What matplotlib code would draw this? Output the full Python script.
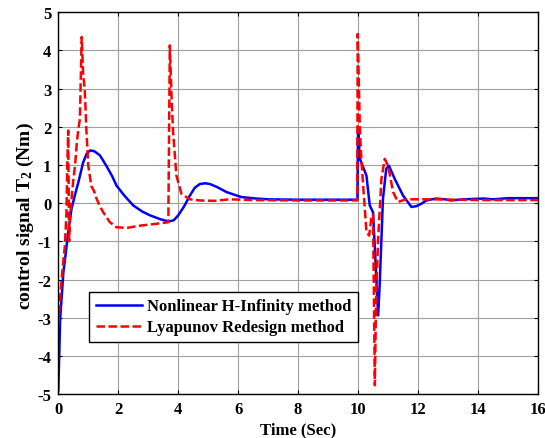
import matplotlib
matplotlib.use("Agg")
import matplotlib.pyplot as plt

# control torque T2 for the two controllers
t_hinf = [0, 0.03, 0.06, 0.1, 0.17, 0.25, 0.33, 0.44, 0.55, 0.67, 0.83, 0.95, 1.06, 1.2,
          1.39, 1.6, 1.8, 1.94, 2.2, 2.5, 2.8, 3.06, 3.4, 3.67, 3.85, 4.0, 4.2, 4.39,
          4.55, 4.72, 4.9, 5.06, 5.3, 5.61, 6.1, 6.6, 7.0, 8.0, 9.0, 9.98, 10.0, 10.06,
          10.17, 10.28, 10.39, 10.5, 10.58, 10.67, 10.72, 10.78, 10.83, 10.94, 11.03,
          11.22, 11.5, 11.78, 11.94, 12.1, 12.28, 12.6, 12.9, 13.1, 13.5, 14.2, 14.5,
          15.0, 16.0]
u_hinf = [-4.9, -4.0, -3.05, -2.6, -1.8, -1.3, -0.76, -0.15, 0.2, 0.55, 1.07, 1.3, 1.38, 1.36,
          1.25, 0.98, 0.7, 0.46, 0.2, -0.06, -0.22, -0.32, -0.42, -0.48, -0.45, -0.32, -0.08, 0.2,
          0.4, 0.5, 0.52, 0.5, 0.42, 0.29, 0.16, 0.12, 0.1, 0.09, 0.09, 0.09, 1.94, 1.16,
          0.94, 0.72, -0.06, -0.24, -1.5, -2.94, -2.16, -0.93, 0.11, 0.9, 0.98,
          0.64, 0.2, -0.1, -0.08, -0.02, 0.07, 0.12, 0.1, 0.07, 0.1, 0.12, 0.1,
          0.13, 0.13]

t_lyap = [0, 0.05, 0.11, 0.17, 0.22, 0.27, 0.3, 0.33, 0.36, 0.4, 0.44, 0.5, 0.56, 0.62,
          0.67, 0.72, 0.78, 0.83, 0.88, 0.94, 1.0, 1.1, 1.2, 1.28, 1.4, 1.5, 1.72, 1.94,
          2.28, 2.72, 3.28, 3.67, 3.72, 3.78, 3.83, 3.94, 4.11, 4.39, 4.72, 5.2, 5.72,
          6.5, 8.0, 9.97, 9.99, 10.03, 10.06, 10.11, 10.17, 10.28, 10.37, 10.44, 10.5,
          10.56, 10.6, 10.67, 10.78, 10.89, 11.0, 11.17, 11.33, 11.6, 12.5, 14.0, 16.0]
u_lyap = [-3.2, -2.6, -2.0, -1.5, -1.1, -0.3, 1.0, 1.9, -1.0, -0.3, 0.1, 0.6, 1.0, 1.6,
          1.95, 2.2, 4.35, 3.34, 3.0, 1.86, 0.98, 0.45, 0.3, 0.11, -0.1, -0.24, -0.5, -0.63,
          -0.65, -0.59, -0.54, -0.5, 4.13, 2.73, 1.86, 0.72, 0.24, 0.1, 0.07, 0.06, 0.1,
          0.08, 0.07, 0.07, 4.43, 3.0, 1.94, 1.16, 0.46, -0.76, -0.85, -0.41, -0.3,
          -4.77, -2.5, -0.93, 0.64, 1.16, 0.98, 0.29, 0.03, 0.1, 0.1, 0.08, 0.08]

x_ticks = [0, 2, 4, 6, 8, 10, 12, 14, 16]
y_ticks = [-5, -4, -3, -2, -1, 0, 1, 2, 3, 4, 5]

plt.rcParams.update({
    "font.family": "Liberation Serif",
    "font.weight": "bold",
    "font.size": 12,
    "axes.unicode_minus": False,
    "mathtext.fontset": "custom",
    "mathtext.rm": "Liberation Serif:bold",
    "mathtext.it": "Liberation Serif:bold",
    "mathtext.bf": "Liberation Serif:bold",
})

fig = plt.figure(figsize=(5.45, 4.39), dpi=100)
ax = fig.add_axes([0.107, 0.100, 0.880, 0.870])

ax.plot(t_hinf, u_hinf, color="#0000ff", lw=1.8, label="Nonlinear H-Infinity method")
ax.plot(t_lyap, u_lyap, color="#ff0000", lw=1.8, ls=(0, (3.4, 1.4)), label="Lyapunov Redesign method")

ax.set_xlim(0, 16); ax.set_ylim(-5, 5)
ax.set_xticks(x_ticks); ax.set_yticks(y_ticks)
ax.tick_params(direction="in", top=True, right=True, length=3, width=0.8, pad=5)
for lbl in ax.get_xticklabels() + ax.get_yticklabels():
    lbl.set_fontweight("bold")
ax.grid(True, color="#a0a0a0", lw=0.8)
for s in ax.spines.values():
    s.set_linewidth(1.0)

ax.set_xlabel("Time (Sec)", fontweight="bold", fontsize=12, labelpad=3)
ax.set_ylabel("control signal T$_2$ (Nm)", fontweight="bold", fontsize=14)
ax.yaxis.set_label_coords(-0.047, 0.47)

leg = ax.legend(loc="lower left", bbox_to_anchor=(0.064, 0.136), borderaxespad=0,
                fancybox=False, framealpha=1, edgecolor="black", handlelength=2.75,
                handletextpad=0.35, borderpad=0.4, labelspacing=0.3,
                prop={"weight": "bold", "size": 12})
leg.get_frame().set_linewidth(1.0)

fig.savefig("out.png", dpi=100)
